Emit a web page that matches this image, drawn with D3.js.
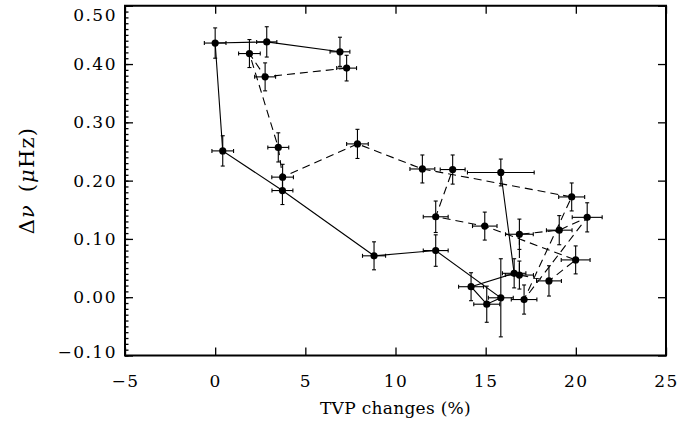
<!DOCTYPE html>
<html><head><meta charset="utf-8">
<script src="https://cdn.jsdelivr.net/npm/d3@7"></script>
<style>
body{margin:0;background:#fff}
svg{display:block}
text{font-family:"DejaVu Serif","Liberation Serif",serif;fill:#000}
</style>
</head><body>
<svg id="chart" width="697" height="425"></svg>
<script>
// ---- data ----
const xTickValues = [-5, 0, 5, 10, 15, 20, 25];
const yTickValues = [-0.1, 0, 0.1, 0.2, 0.3, 0.4, 0.5];
const xTitle = "TVP changes (%)";

// solid series (in drawing order)
const solidX    = [15.84, 16.58, 14.19, 15.06, 15.84, 12.23, 8.81, 3.73, 0.42, 0.00, 2.86, 6.92];
const solidY    = [0.214, 0.041, 0.018, -0.012, -0.001, 0.080, 0.071, 0.183, 0.251, 0.436, 0.438, 0.421];
const solidXErr = [1.85, 0.65, 0.69, 0.72, 0.69, 0.69, 0.64, 0.58, 0.60, 0.60, 0.56, 0.55];
const solidYErr = [0.023, 0.025, 0.024, 0.031, 0.067, 0.027, 0.024, 0.024, 0.026, 0.026, 0.026, 0.025];

// dashed series (in drawing order)
const dashX    = [7.29, 2.77, 1.90, 3.50, 3.74, 7.89, 11.49, 19.77, 17.13, 20.63, 19.08, 16.87, 16.87, 18.51, 19.99, 14.95, 12.23, 13.17];
const dashY    = [0.393, 0.378, 0.418, 0.257, 0.206, 0.263, 0.220, 0.172, -0.004, 0.137, 0.115, 0.108, 0.038, 0.028, 0.064, 0.122, 0.138, 0.219];
const dashXErr = [0.55, 0.58, 0.60, 0.58, 0.60, 0.60, 0.69, 0.72, 0.71, 0.83, 0.71, 0.77, 0.78, 0.69, 0.80, 0.68, 0.69, 0.69];
const dashYErr = [0.022, 0.024, 0.024, 0.025, 0.022, 0.025, 0.024, 0.024, 0.025, 0.025, 0.025, 0.026, 0.024, 0.026, 0.024, 0.024, 0.027, 0.025];

// ---- layout ----
const svg = d3.select("#chart");
const L = 125, R = 666, T = 5.75, B = 355.5;
const x = d3.scaleLinear().domain([-5, 25]).range([L, R]);
const y = d3.scaleLinear().domain([-0.1, 0.5]).range([B, T]);

const fmtY = v => { const s = d3.format(".2f")(Math.abs(v) < 1e-9 ? 0 : v); return s.replace("-", "\u2212"); };
const fmtX = v => String(v).replace("-", "\u2212");

const xMinor = d3.range(-5, 25.001, 1);
const yMinor = d3.range(-0.1, 0.5001, 0.01);

// bottom axis
const gB = svg.append("g").attr("transform", `translate(0,${B})`);
gB.call(d3.axisBottom(x).tickValues(xMinor).tickSize(-3.5).tickFormat(""));
gB.call(d3.axisBottom(x).tickValues(xTickValues).tickSizeInner(-8).tickSizeOuter(0).tickPadding(19).tickFormat(fmtX));
// top axis
const gT = svg.append("g").attr("transform", `translate(0,${T})`);
gT.call(d3.axisTop(x).tickValues(xMinor).tickSize(-3.5).tickFormat(""));
gT.call(d3.axisTop(x).tickValues(xTickValues).tickSizeInner(-8).tickSizeOuter(0).tickFormat(""));
// left axis
const gL = svg.append("g").attr("transform", `translate(${L},0)`);
gL.call(d3.axisLeft(y).tickValues(yMinor).tickSize(-3.5).tickFormat(""));
const gLM = gL.append("g");
gLM.call(d3.axisLeft(y).tickValues(yTickValues).tickSizeInner(-8).tickSizeOuter(0).tickPadding(8).tickFormat(fmtY));
// right axis
const gR = svg.append("g").attr("transform", `translate(${R},0)`);
gR.call(d3.axisRight(y).tickValues(yMinor).tickSize(-3.5).tickFormat(""));
gR.call(d3.axisRight(y).tickValues(yTickValues).tickSizeInner(-8).tickSizeOuter(0).tickFormat(""));

svg.selectAll(".domain").remove();
svg.selectAll(".tick line").attr("stroke", "#000").attr("stroke-width", 1.3);
svg.selectAll(".tick text").attr("font-family", "DejaVu Serif").attr("font-size", 17).attr("fill", "#000")
   .style("letter-spacing", "1.5px");
// top-most y label sits just inside the frame, as in the reference
gLM.selectAll(".tick text").filter(d => d === 0.5).attr("dy", "0.85em");
gLM.selectAll(".tick text").filter(d => d === -0.1).attr("dy", "0.1em");

// frame
svg.append("rect").attr("x", L).attr("y", T).attr("width", R - L).attr("height", B - T)
   .attr("fill", "none").attr("stroke", "#000").attr("stroke-width", 2);

// titles
svg.append("text").attr("x", (L + R) / 2).attr("y", 414).attr("text-anchor", "middle")
   .attr("font-size", 17).style("letter-spacing", "0.3px").text(xTitle);
const yt = svg.append("text").attr("transform", `translate(34,${(T + B) / 2}) rotate(-90)`)
   .attr("text-anchor", "middle").attr("font-size", 21).style("letter-spacing", "1.2px");
yt.append("tspan").text("\u0394");
yt.append("tspan").attr("font-style", "italic").text("\u03BD");
yt.append("tspan").text("\u2002(");
yt.append("tspan").attr("font-style", "italic").text("\u03BC");
yt.append("tspan").text("Hz)");

// series drawing
function drawSeries(xs, ys, xe, ye, dash) {
  const pts = xs.map((v, i) => ({ x: v, y: ys[i], xe: xe[i], ye: ye[i] }));
  const line = d3.line().x(d => x(d.x)).y(d => y(d.y));
  svg.append("path").datum(pts).attr("d", line).attr("fill", "none")
     .attr("stroke", "#000").attr("stroke-width", 1.1)
     .attr("stroke-dasharray", dash ? "8,5" : null);
  const g = svg.append("g").attr("stroke", "#000").attr("stroke-width", 1.1);
  const cap = 2;
  pts.forEach(d => {
    const cx = x(d.x), cy = y(d.y);
    const x0 = x(d.x - d.xe), x1 = x(d.x + d.xe), y0 = y(d.y - d.ye), y1 = y(d.y + d.ye);
    g.append("line").attr("x1", x0).attr("x2", x1).attr("y1", cy).attr("y2", cy);
    g.append("line").attr("x1", cx).attr("x2", cx).attr("y1", y0).attr("y2", y1);
    g.append("line").attr("x1", x0).attr("x2", x0).attr("y1", cy - cap).attr("y2", cy + cap);
    g.append("line").attr("x1", x1).attr("x2", x1).attr("y1", cy - cap).attr("y2", cy + cap);
    g.append("line").attr("x1", cx - cap).attr("x2", cx + cap).attr("y1", y0).attr("y2", y0);
    g.append("line").attr("x1", cx - cap).attr("x2", cx + cap).attr("y1", y1).attr("y2", y1);
  });
  svg.append("g").selectAll("circle").data(pts).join("circle")
     .attr("cx", d => x(d.x)).attr("cy", d => y(d.y)).attr("r", 3.6).attr("fill", "#000");
}
drawSeries(solidX, solidY, solidXErr, solidYErr, false);
drawSeries(dashX, dashY, dashXErr, dashYErr, true);
</script>
</body></html>
